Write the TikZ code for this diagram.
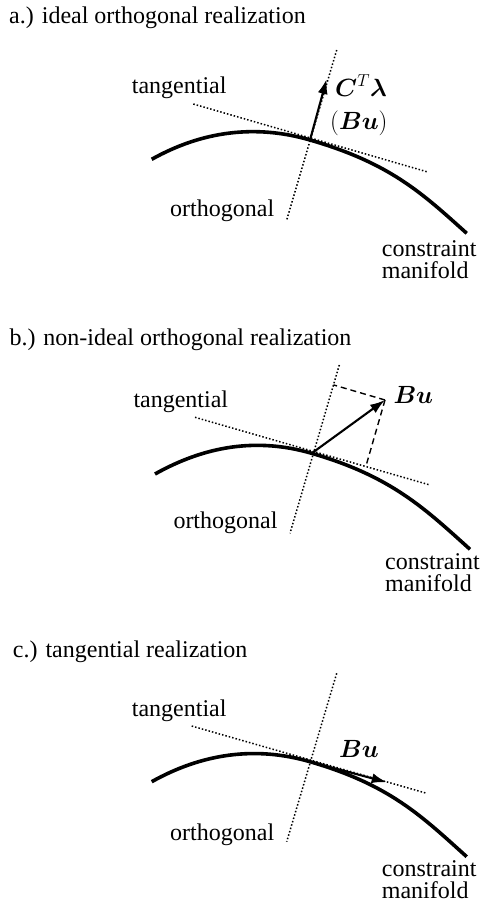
\documentclass[tikz,border=0pt]{standalone}
\usepackage{amsmath}
\usepackage{bm}
\usepackage{fontspec}
\setmainfont{Liberation Serif}
\usetikzlibrary{arrows.meta,calc}
\tikzset{
  lbl/.style={inner sep=0pt, anchor=base west, font=\fontsize{24}{22}\selectfont},
  manif/.style={line width=3.6pt},
  dotline/.style={line width=1.5pt, dash pattern=on 1.5pt off 2pt},
  vec/.style={line width=2.1pt, -{Latex[length=15pt,width=10pt]}},
  proj/.style={line width=1.4pt, dash pattern=on 6pt off 4pt},
}
\newcommand{\mycurve}{%
  \draw[manif] (S) .. controls ($(S)+(50,-28)$) and (-55,-16) .. (P)
     .. controls (80,23.2) and ($(E)+(-45,-40.5)$) .. (E);}
\begin{document}
\begin{tikzpicture}[x=1pt,y=-1pt]
\useasboundingbox (0,0) rectangle (484,913);
% titles
\node[lbl] (ta) at (9,23.3) {a.) ideal orthogonal realization};
\node[lbl] (tb) at (9.3,345) {b.) non-ideal orthogonal realization};
\node[lbl] (tc) at (12.7,657.3) {c.) tangential realization};
% ---------- panel a ----------
\begin{scope}[shift={(310,140)}, name prefix=a-]
  \coordinate (P) at (0,0);
  \coordinate (S) at (-158.3,19.3);
  \coordinate (E) at (156.7,93.3);
  \coordinate (T1) at (-116.7,-36);
  \coordinate (T2) at (116.7,31.7);
  \coordinate (O1) at (26.7,-90);
  \coordinate (O2) at (-23.3,80);
  \coordinate (tip) at (16.7,-61);
  \draw[dotline] (T1) -- (T2);
  \draw[dotline] (O1) -- (O2);
  \mycurve
  \draw[vec] (P) -- (tip);
  \node[lbl] (tan) at (-178.3,-46.7) {tangential};
  \node[lbl] (orth) at (-140,76.7) {orthogonal};
  \node[lbl, align=left] (cm) at (71.7,138) {constraint\\manifold};
  \node[lbl] (force) at (25,-44) {$\bm{C}^T\bm{\lambda}$};
  \node[lbl] (force2) at (20,-11) {$(\bm{B}\bm{u})$};
\end{scope}
% ---------- panel b ----------
\begin{scope}[shift={(311.7,453.3)}, name prefix=b-]
  \coordinate (P) at (0,0);
  \coordinate (S) at (-156.7,20.7);
  \coordinate (E) at (158.3,96);
  \coordinate (T1) at (-116.7,-36);
  \coordinate (T2) at (118.3,31.7);
  \coordinate (O1) at (27.6,-88.3);
  \coordinate (O2) at (-21.7,80);
  \coordinate (tip) at (73.3,-53.3);
  \draw[dotline] (T1) -- (T2);
  \draw[dotline] (O1) -- (O2);
  \mycurve
  \draw[proj] (tip) -- ($(O1)!(tip)!(O2)$);
  \draw[proj] (tip) -- ($(T1)!(tip)!(T2)$);
  \draw[vec] (P) -- (tip);
  \node[lbl] (tan) at (-178.4,-46) {tangential};
  \node[lbl] (orth) at (-138.4,75) {orthogonal};
  \node[lbl, align=left] (cm) at (73.3,138.4) {constraint\\manifold};
  \node[lbl] (force) at (81.6,-50) {$\bm{B}\bm{u}$};
\end{scope}
% ---------- panel c ----------
\begin{scope}[shift={(310,761.7)}, name prefix=c-]
  \coordinate (P) at (0,0);
  \coordinate (S) at (-158.3,20);
  \coordinate (E) at (156.7,95);
  \coordinate (T1) at (-118.3,-35.7);
  \coordinate (T2) at (116.7,31.6);
  \coordinate (O1) at (26.7,-88.4);
  \coordinate (O2) at (-23.3,80);
  \coordinate (tip) at (76.7,20.5);
  \draw[dotline] (T1) -- (T2);
  \draw[dotline] (O1) -- (O2);
  \mycurve
  \draw[vec] (P) -- (tip);
  \node[lbl] (tan) at (-178.3,-45) {tangential};
  \node[lbl] (orth) at (-140,78.3) {orthogonal};
  \node[lbl, align=left] (cm) at (71.7,136.6) {constraint\\manifold};
  \node[lbl] (force) at (29,-4.2) {$\bm{B}\bm{u}$};
\end{scope}
\end{tikzpicture}
\end{document}
